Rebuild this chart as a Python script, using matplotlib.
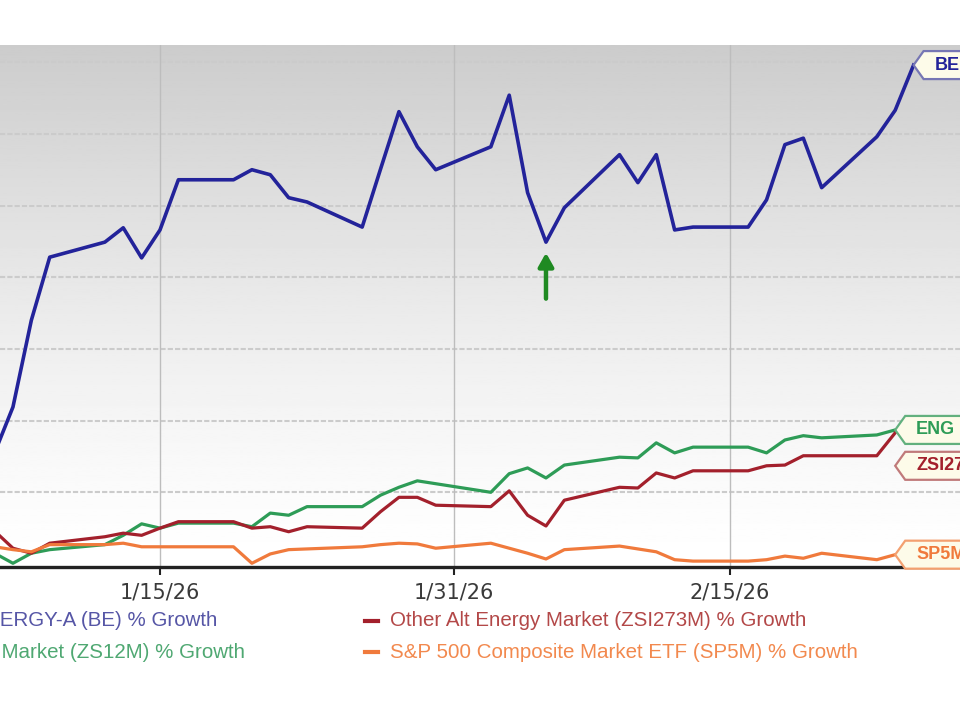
import matplotlib
matplotlib.use('Agg')
import matplotlib.pyplot as plt
import matplotlib.dates as mdates
from matplotlib.patches import Polygon
import numpy as np
import pandas as pd

# trading days shown (holidays carry the previous close)
dates = ['2026-01-06', '2026-01-07', '2026-01-08', '2026-01-09', '2026-01-12',
         '2026-01-13', '2026-01-14', '2026-01-15', '2026-01-16', '2026-01-19',
         '2026-01-20', '2026-01-21', '2026-01-22', '2026-01-23', '2026-01-26',
         '2026-01-27', '2026-01-28', '2026-01-29', '2026-01-30', '2026-02-02',
         '2026-02-03', '2026-02-04', '2026-02-05', '2026-02-06', '2026-02-09',
         '2026-02-10', '2026-02-11', '2026-02-12', '2026-02-13', '2026-02-16',
         '2026-02-17', '2026-02-18', '2026-02-19', '2026-02-20', '2026-02-23',
         '2026-02-24', '2026-02-25']

# % growth
be = [15.5, 21.9, 34.0, 42.8, 44.9, 46.9, 42.7, 46.6, 53.6, 53.6,
      55.0, 54.3, 51.1, 50.5, 47.0, 55.1, 63.1, 58.2, 55.0, 58.2,
      65.4, 51.8, 44.9, 49.7, 57.1, 53.2, 57.1, 46.6, 47.0, 47.0,
      50.8, 58.5, 59.4, 52.5, 59.6, 63.3, 69.6]
eng = [1.5, 0.1, 1.5, 2.0, 2.7, 4.0, 5.6, 5.0, 5.7, 5.7,
       5.2, 7.1, 6.8, 8.0, 8.0, 9.6, 10.7, 11.6, 11.2, 10.0,
       12.6, 13.4, 12.0, 13.8, 14.9, 14.8, 16.9, 15.5, 16.3, 16.3,
       15.5, 17.3, 17.9, 17.6, 18.0, 18.7]
zsi = [4.6, 2.2, 1.5, 2.9, 3.8, 4.3, 4.0, 5.0, 5.9, 5.9,
       5.0, 5.2, 4.5, 5.2, 5.0, 7.3, 9.3, 9.3, 8.2, 8.0,
       10.2, 6.8, 5.3, 8.9, 10.7, 10.6, 12.7, 12.0, 13.0, 13.0,
       13.7, 13.8, 15.1, 15.1, 15.1, 18.3]
sp5 = [2.4, 2.0, 1.7, 2.7, 2.7, 2.9, 2.4, 2.4, 2.4, 2.4,
       0.1, 1.4, 2.0, 2.1, 2.4, 2.7, 2.9, 2.8, 2.2, 2.9,
       2.2, 1.5, 0.7, 2.0, 2.5, 2.1, 1.7, 0.6, 0.4, 0.4,
       0.6, 1.1, 0.8, 1.5, 0.6, 1.3]

tick_dates = ['2026-01-15', '2026-01-31', '2026-02-15']
arrow_date = '2026-02-05'

names = ['BLOOM ENERGY-A (BE) % Growth',
         'Oils-Energy Market (ZS12M) % Growth',
         'Other Alt Energy Market (ZSI273M) % Growth',
         'S&P 500 Composite Market ETF (SP5M) % Growth']
tags = ['BE', 'ENG', 'ZSI273M', 'SP5M']

line_colors = ['#23239a', '#2e9c57', '#a3202c', '#f07a3c']
text_colors = ['#5656a6', '#4fa872', '#b34848', '#f2894e']
tag_edges = ['#7676b4', '#62b07e', '#c07a7a', '#f3a070']

W, H = 960, 720
fig = plt.figure(figsize=(9.6, 7.2), dpi=100)
ax = fig.add_axes([0, (H - 567) / H, 1, (567 - 45) / H])

d = pd.to_datetime(dates)
x = mdates.date2num(d)
x0 = mdates.date2num(pd.Timestamp('2026-01-15'))
ppd = 18.38
xmin, xmax = x0 - 160 / ppd, x0 + 800 / ppd
ymin, ymax = -0.42, 72.4

# gray gradient background
frac = np.linspace(0, 1, 300)[:, None]
grad = 1 - 0.2 * frac ** 1.3
ax.imshow(grad, extent=[xmin, xmax, ymin, ymax], origin='lower', aspect='auto',
          cmap='gray', vmin=0, vmax=1, zorder=0)

for ys in [10, 20, 30, 40, 50, 60, 70]:
    ax.axhline(ys, color='#cbcbcb', lw=1.5, ls=(0, (2.5, 1)), zorder=1)
for t in tick_dates:
    ax.axvline(mdates.date2num(pd.Timestamp(t)), color='#bdbdbd', lw=1.0, zorder=1)

series = [be, eng, zsi, sp5]
widths = [2.6, 2.3, 2.3, 2.3]
for vals, c, lw in zip(series, line_colors, widths):
    ax.plot(x[:len(vals)], vals, color=c, lw=lw, zorder=3, solid_joinstyle='round')

ax.set_xlim(xmin, xmax)
ax.set_ylim(ymin, ymax)

# green arrow under the BE low
ai = dates.index(arrow_date)
ax.annotate('', xy=(x[ai], be[ai] - 1.1), xytext=(0, -37), textcoords='offset points',
            arrowprops=dict(arrowstyle='-|>,head_width=0.45,head_length=0.8',
                            color='#1f8a22', lw=3.2), zorder=5)

for s in ['top', 'left', 'right']:
    ax.spines[s].set_visible(False)
ax.spines['bottom'].set_color('#222222')
ax.spines['bottom'].set_linewidth(2.4)
ax.spines['bottom'].set_zorder(4)
ax.set_yticks([])
ax.set_xticks([mdates.date2num(pd.Timestamp(t)) for t in tick_dates])
ax.set_xticklabels([f'{pd.Timestamp(t).month}/{pd.Timestamp(t).day}/{pd.Timestamp(t):%y}'
                    for t in tick_dates])
ax.tick_params(axis='x', length=6, width=1.5, color='#222222', pad=5,
               labelsize=15, labelcolor='#3a3a3a')

# end tags
tag_shift = [0, 0, -33, 0]
for vals, lab, c, ec, sh in zip(series, tags, line_colors, tag_edges, tag_shift):
    n = len(vals) - 1
    px, py = ax.transData.transform((x[n], vals[n]))
    py += sh
    pts = [(px, py), (px + 10, py + 14), (px + 120, py + 14),
           (px + 120, py - 14), (px + 10, py - 14)]
    ax.add_patch(Polygon(pts, closed=True, transform=None, facecolor='#fdfbe9',
                         edgecolor=ec, lw=1.6, zorder=6, clip_on=False))
    fig.text((px + 21) / W, py / H, lab, color=c, fontsize=13, fontweight='bold',
             va='center', ha='left', family='Liberation Sans', zorder=7)

# legend
row_y = [H - 621, H - 652]
fig.text(217 / W, row_y[0] / H, names[0], color=text_colors[0], fontsize=14.8,
         ha='right', va='center', family='Liberation Sans')
fig.text(245 / W, row_y[1] / H, names[1], color=text_colors[1], fontsize=14.8,
         ha='right', va='center', family='Liberation Sans')
for i, ry in zip([2, 3], row_y):
    fig.lines.append(plt.Line2D([365 / W, 378 / W], [ry / H, ry / H], transform=fig.transFigure,
                                color=line_colors[i], lw=3))
    fig.text(390 / W, ry / H, names[i], color=text_colors[i], fontsize=14.8,
             ha='left', va='center', family='Liberation Sans')

fig.savefig('out.png', dpi=100)
